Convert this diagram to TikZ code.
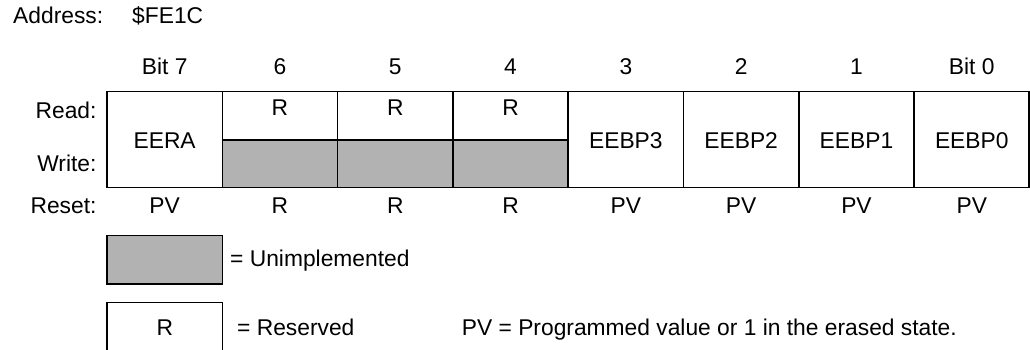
\documentclass[tikz,border=0pt]{standalone}
\usepackage{fontspec}
\setmainfont{Liberation Sans}
\begin{document}
\begin{tikzpicture}[x=1pt,y=-1pt,
  txt/.style={font=\fontsize{22.8}{27}\selectfont, inner sep=0pt, anchor=base},
  rtxt/.style={txt, anchor=base east},
  ltxt/.style={txt, anchor=base west},
  frame/.style={draw=black, line width=1.5pt},
  unimp/.style={frame, fill=black!30}]
\useasboundingbox (0,0) rectangle (1030,349);
\def\w{115.3}
% register fill for unimplemented write cells
\foreach \i in {1,2,3} {
  \path[unimp] (107+\w*\i,140) rectangle (107+\w*\i+\w,187.3);
}
% outer frame and column dividers
\draw[frame] (107,91.7) rectangle (1029,187.3);
\foreach \i in {1,...,7} {
  \draw[frame] (107+\w*\i,91.7) -- (107+\w*\i,187.3);
}
\foreach \i in {1,2,3} {
  \draw[frame] (107+\w*\i,140) -- (107+\w*\i+\w,140);
}
% address
\node[ltxt] (addr) at (13,23.3) {Address:};
\node[ltxt] (addrv) at (132,23.3) {\$FE1C};
% bit headers
\foreach \t [count=\i from 0] in {Bit 7,6,5,4,3,2,1,Bit 0} {
  \node[txt] (h\i) at (107+\w*\i+\w/2,74) {\t};
}
% row labels
\node[rtxt] (read) at (96.7,118.3) {Read:};
\node[rtxt] (write) at (96.7,171.7) {Write:};
\node[rtxt] (reset) at (96.7,213.3) {Reset:};
% cell contents
\node[txt] (c0) at (107+\w*0.5,148.3) {EERA};
\foreach \i in {1,2,3} {
  \node[txt] (r\i) at (107+\w*\i+\w/2,115) {R};
}
\foreach \t [count=\i from 4] in {EEBP3,EEBP2,EEBP1,EEBP0} {
  \node[txt] (c\i) at (107+\w*\i+\w/2,148.3) {\t};
}
% reset values
\foreach \t [count=\i from 0] in {PV,R,R,R,PV,PV,PV,PV} {
  \node[txt] (v\i) at (107+\w*\i+\w/2,213.3) {\t};
}
% legend
\path[unimp] (107,235.7) rectangle (222.7,284);
\node[ltxt] (lu) at (230,266.7) {= Unimplemented};
\draw[frame] (107,352) -- (107,302.7) -- (222.7,302.7) -- (222.7,352);
\node[txt] (lr) at (164.8,335.7) {R};
\node[ltxt] (lrt) at (237,335.7) {= Reserved};
\node[ltxt] (pv) at (461.7,335.7) {PV = Programmed value or 1 in the erased state.};
\end{tikzpicture}
\end{document}
